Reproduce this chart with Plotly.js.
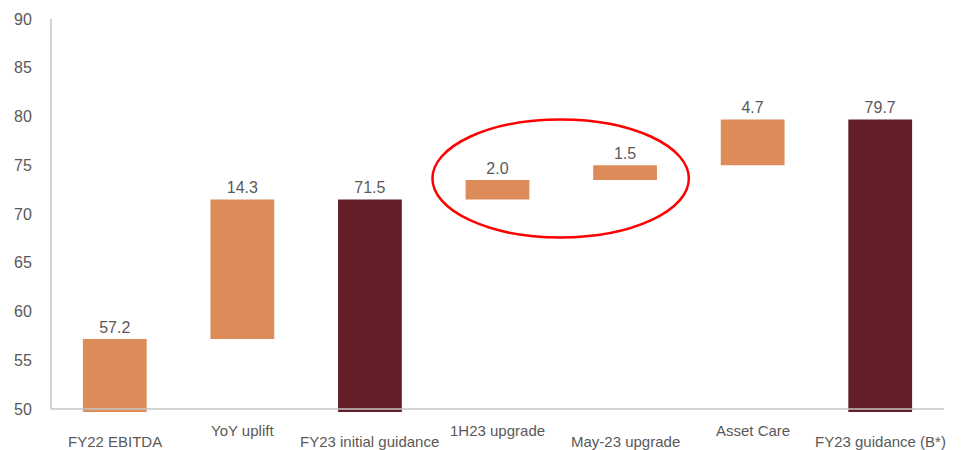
<!DOCTYPE html>
<html>
<head>
<meta charset="utf-8">
<script src="https://cdn.plot.ly/plotly-3.0.1.min.js"></script>
<style>html,body{margin:0;padding:0;background:#fff;}#chart{width:962px;height:450px;}</style>
</head>
<body>
<div id="chart"></div>
<script>
// ---- data ----
const categories = ["FY22 EBITDA", "YoY uplift", "FY23 initial guidance", "1H23 upgrade", "May-23 upgrade", "Asset Care", "FY23 guidance (B*)"];
const deltas = [57.2, 14.3, null, 2.0, 1.5, 4.7, null];   // null = running total bar
const totalsFlag = [false, false, true, false, false, false, true];
const labelRow = [1, 0, 1, 0, 1, 0, 1];                   // 0 = upper row, 1 = lower row
const yTicks = [50, 55, 60, 65, 70, 75, 80, 85, 90];

// ---- styles ----
const ORANGE = "#DE8B5A";
const MAROON = "#621F28";
const TEXT = "#595959";
const AXIS = "#C4C4C4";
const FLOOR = 49.7;   // bars start slightly below the axis line, as in the original

// build waterfall geometry from the data
let running = 0;
const bases = [], heights = [], colors = [], labels = [];
categories.forEach((c, i) => {
  if (totalsFlag[i]) {
    bases.push(FLOOR); heights.push(running - FLOOR); colors.push(MAROON);
    labels.push(running.toFixed(1));
  } else if (i === 0) {
    running = deltas[i];
    bases.push(FLOOR); heights.push(running - FLOOR); colors.push(ORANGE);
    labels.push(deltas[i].toFixed(1));
  } else {
    bases.push(running); heights.push(deltas[i]); colors.push(ORANGE);
    running = +(running + deltas[i]).toFixed(2);
    labels.push(deltas[i].toFixed(1));
  }
});

const trace = {
  type: "bar",
  x: categories,
  y: heights,
  base: bases,
  width: 0.5,
  marker: { color: colors, line: { width: 0 } },
  text: labels,
  textposition: "outside",
  cliponaxis: false,
  textfont: { family: "Liberation Sans, Arial, sans-serif", size: 16, color: TEXT },
  hoverinfo: "skip"
};

const annotations = categories.map((c, i) => ({
  x: c, xref: "x", y: 0, yref: "paper",
  text: c, showarrow: false,
  xanchor: "center", yanchor: "middle",
  borderpad: 0,
  yshift: labelRow[i] === 0 ? -16 : -27,
  font: { family: "Liberation Sans, Arial, sans-serif", size: 15, color: TEXT }
}));

const layout = {
  width: 962, height: 450,
  margin: { l: 51, r: 18, t: 19, b: 36 },
  paper_bgcolor: "#fff", plot_bgcolor: "#fff",
  showlegend: false,
  bargap: 0.5,
  xaxis: {
    type: "category", range: [-0.5, categories.length - 0.5],
    showticklabels: false, showgrid: false, zeroline: false, showline: false, ticks: ""
  },
  yaxis: {
    range: [49.5, 90], tickvals: yTicks, ticktext: yTicks.map(String),
    showgrid: false, zeroline: false, showline: false,
    ticks: "outside", ticklen: 15, tickcolor: "rgba(0,0,0,0)",
    tickfont: { family: "Liberation Sans, Arial, sans-serif", size: 16, color: TEXT }
  },
  annotations: annotations,
  shapes: [
    { type: "line", xref: "paper", yref: "y", x0: 0, x1: 0, y0: 50, y1: 90, line: { color: AXIS, width: 1.5 }, layer: "above" },
    { type: "line", xref: "paper", yref: "y", x0: 0, x1: 1, y0: 50, y1: 50, line: { color: AXIS, width: 1.5 }, layer: "above" },
    { type: "circle", xref: "x", yref: "y", x0: 2.49, x1: 4.5, y0: 67.6, y1: 79.7, line: { color: "#FF0000", width: 2.5 }, layer: "above" }
  ]
};

Plotly.newPlot("chart", [trace], layout, { staticPlot: true, displayModeBar: false });
</script>
</body>
</html>
